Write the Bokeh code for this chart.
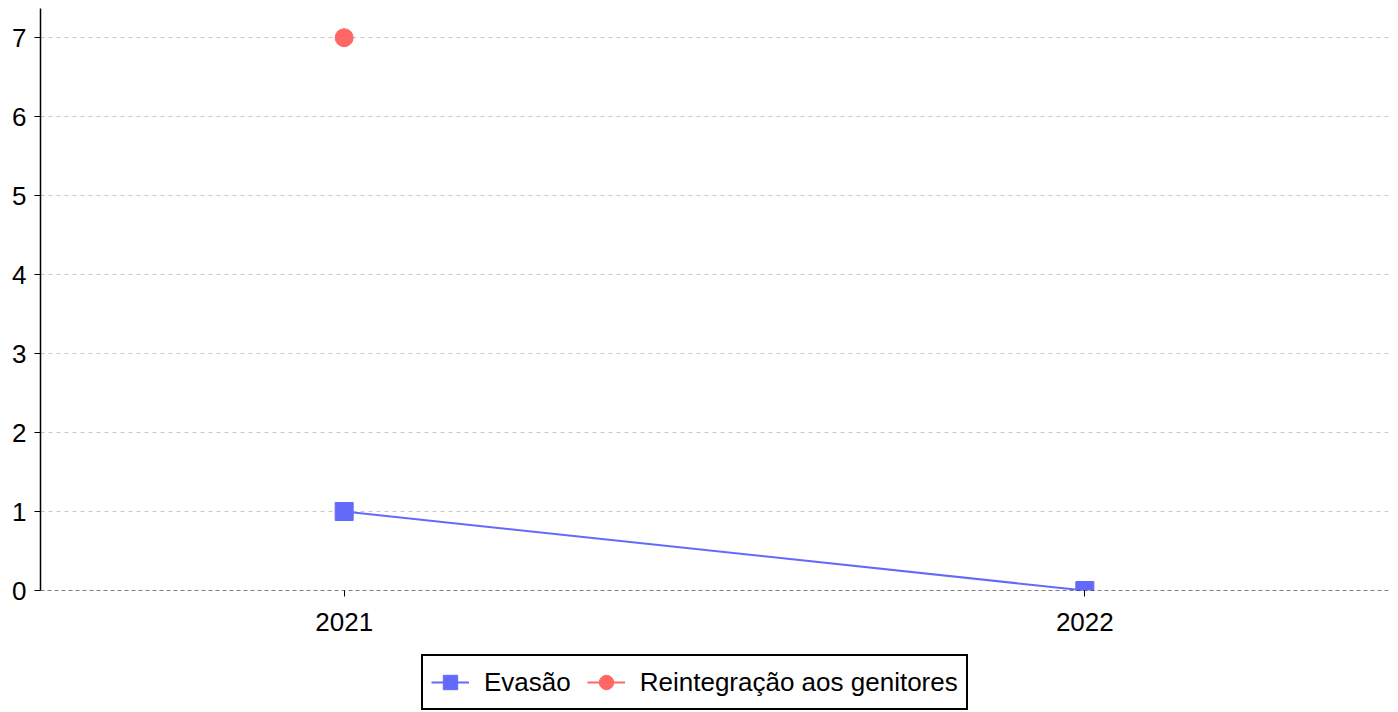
from bokeh.plotting import figure
from bokeh.models import Range1d, FixedTicker, Span, Legend, LegendItem
from bokeh.layouts import column
from bokeh.embed import file_html
from bokeh.resources import INLINE

years = [2021, 2022]
evasao = [1, 0]
reint_years = [2021]
reintegracao = [7]
y_ticks = [0, 1, 2, 3, 4, 5, 6, 7]
series_names = ["Evasão", "Reintegração aos genitores"]

BLUE = "#636AFA"
RED = "#FF6666"
FONT = "Liberation Sans"
FS = "26px"

p = figure(frame_width=1348, frame_height=582, output_backend="svg", toolbar_location=None,
           x_range=Range1d(2020.59, 2022.41), y_range=Range1d(0, 7.37),
           min_border_left=40, min_border_right=8, min_border_top=8, min_border_bottom=55)
p.outline_line_color = None

p.line(years, evasao, line_color=BLUE, line_width=2)
p.scatter(years, evasao, marker="square", size=18, color=BLUE)
p.line(reint_years, reintegracao, line_color=RED, line_width=2)
p.scatter(reint_years, reintegracao, marker="circle", size=18, color=RED)

p.add_layout(Span(location=0, dimension="width", line_color="black",
                  line_dash="4 3", line_width=1))

p.xaxis.ticker = FixedTicker(ticks=years)
p.yaxis.ticker = FixedTicker(ticks=y_ticks)
p.xgrid.visible = False
p.ygrid.grid_line_color = "#c8c8c8"
p.ygrid.grid_line_dash = "4 4"
p.ygrid.grid_line_width = 1

for ax in (p.xaxis, p.yaxis):
    ax.major_label_text_font = FONT
    ax.major_label_text_font_size = FS
    ax.major_label_text_color = "black"
    ax.minor_tick_line_color = None
    ax.major_tick_in = 0
    ax.major_tick_out = 6
    ax.major_tick_line_color = "black"
p.xaxis.axis_line_color = None
p.xaxis.major_label_standoff = 16
p.yaxis.axis_line_color = "black"
p.yaxis.axis_line_width = 1.5
p.yaxis.major_label_standoff = 8

# legend panel below the chart (its glyphs hold the same data, outside its visible range)
p2 = figure(width=1396, height=67, output_backend="svg", toolbar_location=None,
            x_range=Range1d(0, 1), y_range=Range1d(0, 1),
            min_border_left=0, min_border_right=0, min_border_top=0, min_border_bottom=0)
p2.outline_line_color = None
p2.axis.visible = False
p2.grid.visible = False
lg1 = p2.line(years, evasao, line_color=BLUE, line_width=2)
sg1 = p2.scatter(years, evasao, marker="square", color=BLUE)
lg2 = p2.line(reint_years, reintegracao, line_color=RED, line_width=2)
sg2 = p2.scatter(reint_years, reintegracao, marker="circle", color=RED)

legend = Legend(items=[LegendItem(label=series_names[0], renderers=[lg1, sg1]),
                       LegendItem(label=series_names[1], renderers=[lg2, sg2])],
                orientation="horizontal", location=(381, 2))
legend.label_text_font = FONT
legend.label_text_font_size = FS
legend.label_text_color = "black"
legend.border_line_color = "black"
legend.border_line_alpha = 1.0
legend.border_line_width = 2
legend.padding = 8
legend.spacing = 16
legend.glyph_width = 38
legend.glyph_height = 36
legend.label_height = 36
legend.label_standoff = 15
legend.margin = 0
p2.add_layout(legend)

open("out.html", "w").write(file_html(column(p, p2, spacing=0), INLINE))
